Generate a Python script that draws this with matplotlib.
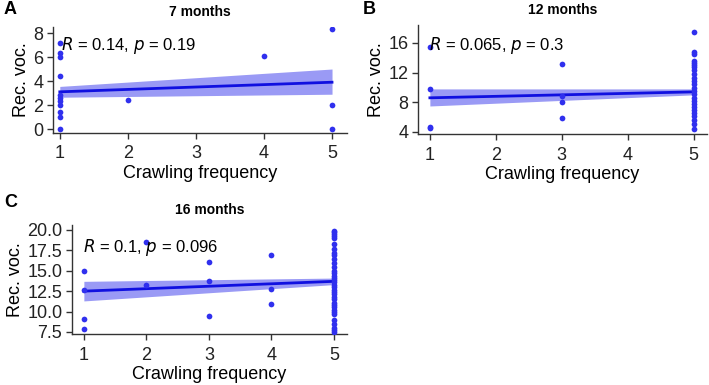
import numpy as np
import matplotlib.pyplot as plt

plt.rcParams['font.family'] = ['Liberation Sans', 'DejaVu Sans']

# panel A - 7 months
a_x = [1]*11 + [2, 4, 5, 5, 5]
a_y = [7.2, 6.3, 6.0, 4.4, 2.8, 2.6, 2.3, 2.0, 1.4, 1.0, 0.0, 2.4, 6.1, 8.3, 2.0, 0.0]
a_fit = [3.1, 3.9]
a_lo = [2.65, 2.9]
a_hi = [3.55, 5.0]

# panel B - 12 months
b_x = [1]*4 + [3]*4 + [5]*25
b_y = [15.4, 9.8, 4.7, 4.6,
       13.1, 8.9, 8.1, 5.9,
       17.5, 14.8, 14.5, 13.6, 13.3, 13.0, 12.7, 12.3, 11.8, 11.2, 10.8, 10.4,
       9.9, 9.5, 9.1, 8.6, 8.2, 7.8, 7.4, 7.0, 6.6, 6.2, 5.6, 5.1, 4.4]
b_fit = [8.6, 9.4]
b_lo = [7.5, 9.0]
b_hi = [9.8, 9.8]

# panel C - 16 months
c_x = [1]*4 + [2]*2 + [3]*3 + [4]*3 + [5]*36
c_y = [15.0, 12.6, 9.1, 7.9,
       18.5, 13.2,
       16.1, 13.7, 9.4,
       16.9, 12.8, 10.9,
       19.9, 19.7, 19.5, 19.3, 19.0, 18.3, 17.6, 17.2, 16.9, 16.4, 16.0, 15.5,
       15.0, 14.7, 14.4, 14.1, 13.9, 13.6, 13.3, 13.0, 12.7, 12.4, 12.1, 11.8,
       11.5, 11.1, 10.8, 10.5, 10.2, 9.9, 9.7, 9.0, 8.5, 8.0, 7.7, 7.5]
c_fit = [12.5, 13.7]
c_lo = [11.3, 13.3]
c_hi = [13.7, 14.1]

fit_x = [1, 5]

W, H = 709, 385
fig = plt.figure(figsize=(W/100, H/100), dpi=100)


def panel(l, t, r, b, xs, ys, fit, lo, hi, ylim, xlim, yticks, ylabels,
          title, letter, rtxt, txy):
    ax = fig.add_axes([l/W, 1-b/H, (r-l)/W, (b-t)/H])
    ax.fill_between(fit_x, lo, hi, color='#9a9af5', lw=0, zorder=1)
    ax.plot(fit_x, fit, color='#1010e0', lw=2, zorder=2)
    ax.scatter(xs, ys, s=17, color='#3030ee', lw=0, zorder=3)
    ax.set_xlim(xlim)
    ax.set_ylim(ylim)
    ax.set_xticks([1, 2, 3, 4, 5])
    ax.set_yticks(yticks)
    ax.set_yticklabels(ylabels)
    for s in ['top', 'right']:
        ax.spines[s].set_visible(False)
    for s in ['left', 'bottom']:
        ax.spines[s].set_color('#333333')
        ax.spines[s].set_linewidth(1)
    ax.tick_params(length=4, width=1, color='#333333', labelsize=13,
                   labelcolor='#222222', pad=3)
    ax.tick_params(axis='x', pad=5)
    ax.set_xlabel('Crawling frequency', fontsize=13, labelpad=2)
    ax.set_ylabel('Rec. voc.', fontsize=13, labelpad=2)
    ax.set_title(title, fontsize=10, fontweight='bold', pad=8)
    ax.text(txy[0], txy[1], rtxt, fontsize=12, va='center', ha='left', zorder=4)
    fig.text((l-48)/W, 1-10/H, letter, fontsize=13, fontweight='bold', va='center')
    return ax


panel(53, 27, 347, 133, a_x, a_y, a_fit, a_lo, a_hi, (-0.33, 8.5), (0.9, 5.22),
      [0, 2, 4, 6, 8], ['0', '2', '4', '6', '8'], '7 months', 'A',
      r'$R$ = 0.14, $p$ = 0.19', (1.02, 7.0))
fig.texts[-1].set_x(4/W)

panel(418, 25, 707, 134, b_x, b_y, b_fit, b_lo, b_hi, (3.73, 18.4), (0.82, 5.2),
      [4, 8, 12, 16], ['4', '8', '12', '16'], '12 months', 'B',
      r'$R$ = 0.065, $p$ = 0.3', (0.99, 15.6))
fig.texts[-1].set_x(363/W)

panel(72, 225, 347, 334, c_x, c_y, c_fit, c_lo, c_hi, (7.25, 20.6), (0.81, 5.21),
      [7.5, 10, 12.5, 15, 17.5, 20], ['7.5', '10.0', '12.5', '15.0', '17.5', '20.0'],
      '16 months', 'C', r'$R$ = 0.1, $p$ = 0.096', (0.98, 17.9))
fig.texts[-1].set_x(4/W)
fig.texts[-1].set_y(1-203/H)

fig.savefig('out.png', dpi=100)
